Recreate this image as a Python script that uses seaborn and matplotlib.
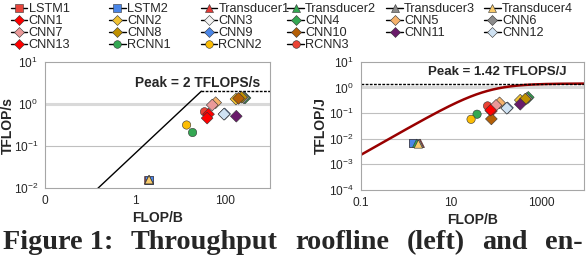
import numpy as np
import pandas as pd
import matplotlib
matplotlib.use("Agg")
import matplotlib.pyplot as plt
from matplotlib.lines import Line2D
from matplotlib.ticker import FixedLocator, FixedFormatter, NullLocator
import seaborn as sns

sns.set_style("white")
plt.rcParams["font.family"] = ["Liberation Sans", "DejaVu Sans"]
plt.rcParams["mathtext.fontset"] = "custom"
plt.rcParams["mathtext.rm"] = "Liberation Sans"

# Modelle und Darstellung
models = ["LSTM1", "LSTM2", "Transducer1", "Transducer2", "Transducer3", "Transducer4",
          "CNN1", "CNN2", "CNN3", "CNN4", "CNN5", "CNN6",
          "CNN7", "CNN8", "CNN9", "CNN10", "CNN11", "CNN12",
          "CNN13", "RCNN1", "RCNN2", "RCNN3"]
colors = ["#E8453C", "#4A86E8", "#E53935", "#34A853", "#8C8C8C", "#F9CB6B",
          "#FF0000", "#F1C232", "#F3F3F3", "#34A853", "#F6B26B", "#8C8C8C",
          "#EA9999", "#BF9000", "#4A86E8", "#B45F06", "#6A1B6A", "#CFE2F3",
          "#FF0000", "#34A853", "#FBBC04", "#EA4335"]
markers = ["s", "s", "^", "^", "^", "^"] + ["D"] * 13 + ["o", "o", "o"]

# Durchsatz-Roofline (links)
tput_intensity = [2.0, 2.05, 2.05, 2.05, 2.05, 2.05,
                  43, 175, 95, 278, 62, 260,
                  52, 234, 98, 200, 178, 95,
                  40, 19, 14, 35]
tput_value = [0.016, 0.016, 0.016, 0.016, 0.016, 0.016,
              0.57, 1.3, 0.57, 1.38, 1.07, 1.4,
              0.94, 1.44, 0.58, 1.35, 0.51, 0.57,
              0.46, 0.21, 0.316, 0.65]
peak_tput = 2.0
mem_bw = 0.067

# Energie-Roofline (rechts)
energy_intensity = [1.45, 1.48, 2.1, 1.74, 2.0, 1.9,
                    79, 345, 174, 520, 120, 480,
                    100, 445, 180, 79, 345, 174,
                    76, 38, 28, 65]
energy_value = [0.0066, 0.0066, 0.0066, 0.0066, 0.0066, 0.0062,
                0.12, 0.32, 0.155, 0.41, 0.25, 0.37,
                0.2, 0.35, 0.16, 0.059, 0.22, 0.155,
                0.13, 0.09, 0.057, 0.19]
peak_energy = 1.42
byte_energy = 43.0

caption_words = ["Figure 1:", "Throughput", "roofline", "(left)", "and", "en-"]

# Zeichenreihenfolge: LSTM/Transducer, RCNN, CNN
order = list(range(6)) + [19, 20, 21] + list(range(6, 19))
df = pd.DataFrame({
    "model": [models[i] for i in order],
    "tput_x": [tput_intensity[i] for i in order],
    "tput_y": [tput_value[i] for i in order],
    "en_x": [energy_intensity[i] for i in order],
    "en_y": [energy_value[i] for i in order],
})
palette = dict(zip(models, colors))
marker_map = dict(zip(models, markers))

fig = plt.figure(figsize=(5.86, 2.58), dpi=100)
ax1 = fig.add_axes([0.0768, 0.270, 0.384, 0.491])
ax2 = fig.add_axes([0.6155, 0.2636, 0.381, 0.497])

grid_col = "#BFBFBF"
for ax in (ax1, ax2):
    ax.set_xscale("log")
    ax.set_yscale("log")
    for name in ax.spines:
        ax.spines[name].set_color("#A6A6A6")
        ax.spines[name].set_linewidth(0.8)
    ax.tick_params(axis="both", labelsize=8.6, length=3.5, width=0.6, color="#A6A6A6", pad=1.5)
    ax.xaxis.set_minor_locator(NullLocator())
    ax.yaxis.set_minor_locator(NullLocator())

# links
ax1.set_xlim(0.01, 1000)
ax1.set_ylim(0.01, 10)
ax1.axhline(1, color="#D9D9D9", lw=2.2, zorder=0)
ax1.axhline(0.1, color=grid_col, lw=0.8, zorder=0)
knee = peak_tput / mem_bw
xs = np.array([0.01 / mem_bw, knee])
ax1.plot(xs, mem_bw * xs, color="black", lw=1.0)
ax1.plot([knee, 1000], [peak_tput, peak_tput], color="black", lw=1.0, ls=(0, (2, 1)))
sns.scatterplot(data=df, x="tput_x", y="tput_y", hue="model", style="model",
                palette=palette, markers=marker_map, s=36, edgecolor="#333333",
                linewidth=0.4, legend=False, ax=ax1, zorder=3)
ax1.text(0.956, 0.83, "Peak = 2 TFLOPS/s", transform=ax1.transAxes, ha="right",
         va="center", fontsize=9.9, fontweight="bold")
ax1.xaxis.set_major_locator(FixedLocator([0.01, 1, 100]))
ax1.xaxis.set_major_formatter(FixedFormatter(["0", "1", "100"]))
ax1.yaxis.set_major_locator(FixedLocator([0.01, 0.1, 1, 10]))
ax1.set_xlabel("FLOP/B", fontsize=10, fontweight="bold", labelpad=3)
ax1.set_ylabel("TFLOP/s", fontsize=10, fontweight="bold")
ax1.yaxis.set_label_coords(-0.132, 0.5)

# rechts
ax2.set_xlim(0.1, 10 ** 3.95)
ax2.set_ylim(1e-4, 10)
ax2.axhline(1, color="#D9D9D9", lw=2.2, zorder=0)
for g in (0.1, 0.01, 0.001):
    ax2.axhline(g, color=grid_col, lw=0.8, zorder=0)
ix = np.logspace(-1, 3.95, 200)
ax2.plot(ix, 1.0 / (1.0 / peak_energy + byte_energy / ix), color="#990000", lw=1.8)
ax2.axhline(peak_energy, color="black", lw=1.0, ls=(0, (2, 1)))
sns.scatterplot(data=df, x="en_x", y="en_y", hue="model", style="model",
                palette=palette, markers=marker_map, s=36, edgecolor="#333333",
                linewidth=0.4, legend=False, ax=ax2, zorder=3)
ax2.text(0.924, 0.92, "Peak = 1.42 TFLOPS/J", transform=ax2.transAxes, ha="right",
         va="center", fontsize=9.5, fontweight="bold")
ax2.xaxis.set_major_locator(FixedLocator([0.1, 10, 1000]))
ax2.xaxis.set_major_formatter(FixedFormatter(["0.1", "10", "1000"]))
ax2.yaxis.set_major_locator(FixedLocator([1e-4, 1e-3, 1e-2, 1e-1, 1, 10]))
ax2.set_xlabel("FLOP/B", fontsize=10, fontweight="bold", labelpad=3)
ax2.set_ylabel("TFLOP/J", fontsize=10, fontweight="bold")
ax2.yaxis.set_label_coords(-0.146, 0.5)

# Legende: 6 Spalten in festem Raster
col_x = [0.016, 0.184, 0.340, 0.488, 0.657, 0.824]
for c in range(6):
    handles = []
    for i in range(c, len(models), 6):
        handles.append(Line2D([0], [0], color="black", lw=1.0, marker=markers[i],
                              markersize=5.5, markerfacecolor=colors[i],
                              markeredgecolor="#333333", markeredgewidth=0.4,
                              label=models[i]))
    fig.legend(handles=handles, loc="upper left", bbox_to_anchor=(col_x[c], 0.992),
               frameon=False, fontsize=9.2, handlelength=1.3, handletextpad=0.1,
               labelspacing=0.0, borderpad=0.1, borderaxespad=0)

# Bildunterschrift im Blocksatz
renderer = fig.canvas.get_renderer()
cap_texts = [fig.text(0, 0.035, w, fontsize=20.3, fontweight="bold",
                      family=["Liberation Serif", "DejaVu Serif"]) for w in caption_words]
widths = [t.get_window_extent(renderer).width for t in cap_texts]
fig_w = fig.get_figwidth() * fig.dpi
x0, x1 = 3.0, 583.0
gap = (x1 - x0 - sum(widths)) / (len(widths) - 1)
pos = x0
for t, w in zip(cap_texts, widths):
    t.set_x(pos / fig_w)
    pos += w + gap

fig.savefig("out.png", dpi=100)
